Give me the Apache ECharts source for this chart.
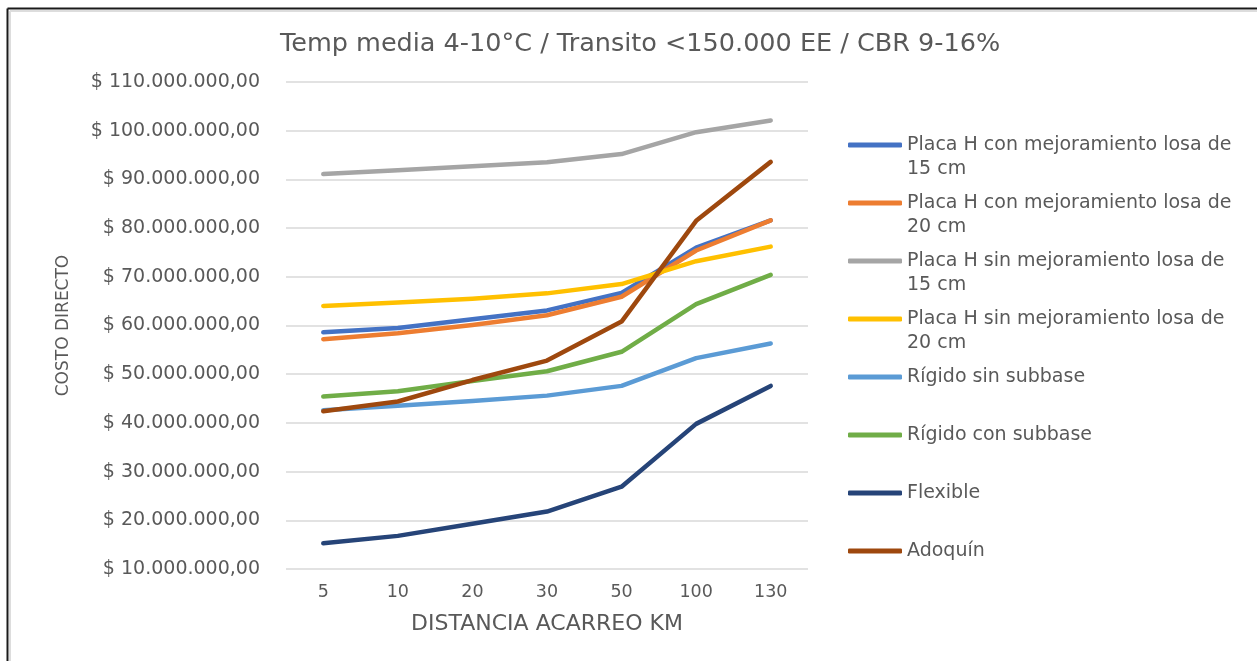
<!DOCTYPE html>
<html>
<head>
<meta charset="utf-8">
<script src="https://cdn.jsdelivr.net/npm/echarts@6/dist/echarts.min.js"></script>
<style>
  html, body { margin: 0; padding: 0; background: #ffffff; }
  #chart { width: 1257px; height: 661px; }
</style>
</head>
<body>
<div id="chart"></div>
<script>
const categories = ['5', '10', '20', '30', '50', '100', '130'];

const placaCon15 = [58600000, 59500000, 61300000, 63100000, 66700000, 76000000, 81600000];
const placaCon20 = [57200000, 58400000, 60100000, 62100000, 65900000, 75400000, 81600000];
const placaSin15 = [91100000, 91900000, 92700000, 93500000, 95200000, 99700000, 102100000];
const placaSin20 = [64000000, 64700000, 65500000, 66600000, 68500000, 73200000, 76200000];
const rigidoSin  = [42600000, 43500000, 44500000, 45600000, 47600000, 53300000, 56300000];
const rigidoCon  = [45400000, 46500000, 48600000, 50600000, 54600000, 64400000, 70400000];
const flexible   = [15300000, 16800000, 19300000, 21800000, 26900000, 39800000, 47600000];
const adoquin    = [42400000, 44400000, 48800000, 52800000, 60800000, 81500000, 93600000];

const seriesNames = [
  'Placa H con mejoramiento losa de 15 cm',
  'Placa H con mejoramiento losa de 20 cm',
  'Placa H sin mejoramiento losa de 15 cm',
  'Placa H sin mejoramiento losa de 20 cm',
  'Rígido sin subbase',
  'Rígido con subbase',
  'Flexible',
  'Adoquín'
];
const legendLabels = [
  'Placa H con mejoramiento losa de\n15 cm',
  'Placa H con mejoramiento losa de\n20 cm',
  'Placa H sin mejoramiento losa de\n15 cm',
  'Placa H sin mejoramiento losa de\n20 cm',
  'Rígido sin subbase\n',
  'Rígido con subbase\n',
  'Flexible\n',
  'Adoquín\n'
];
const seriesData = [placaCon15, placaCon20, placaSin15, placaSin20, rigidoSin, rigidoCon, flexible, adoquin];
const colors = ['#4472C4', '#ED7D31', '#A5A5A5', '#FFC000', '#5B9BD5', '#70AD47', '#264478', '#9E480E'];

const FONT = 'DejaVu Sans';
const TXT = '#595959';

function fmtMoney(v) {
  const s = String(Math.round(v)).replace(/\B(?=(\d{3})+(?!\d))/g, '.');
  return '$ ' + s + ',00';
}

const chart = echarts.init(document.getElementById('chart'), null, { renderer: 'canvas' });

const option = {
  backgroundColor: '#ffffff',
  animation: false,
  color: colors,
  title: {
    text: 'Temp media 4-10°C / Transito <150.000 EE / CBR 9-16%',
    left: 280,
    top: 31,
    padding: 0,
    textStyle: { fontFamily: FONT, fontSize: 25.5, fontWeight: 'normal', color: TXT }
  },
  graphic: [
    { type: 'line', shape: { x1: 10, y1: 11, x2: 10, y2: 661 }, style: { stroke: '#dddddd', lineWidth: 2 }, silent: true },
    { type: 'line', shape: { x1: 10, y1: 11, x2: 1257, y2: 11 }, style: { stroke: '#dddddd', lineWidth: 2 }, silent: true },
    { type: 'line', shape: { x1: 7.5, y1: 8.5, x2: 7.5, y2: 661 }, style: { stroke: '#1a1a1a', lineWidth: 2 }, silent: true },
    { type: 'line', shape: { x1: 7.5, y1: 8.5, x2: 1257, y2: 8.5 }, style: { stroke: '#1a1a1a', lineWidth: 2 }, silent: true }
  ],
  legend: {
    orient: 'vertical',
    left: 848,
    top: 109,
    padding: 0,
    itemGap: -14,
    itemWidth: 54,
    itemHeight: 5,
    icon: 'roundRect',
    data: seriesNames,
    formatter: function (name) {
      return '\n' + legendLabels[seriesNames.indexOf(name)];
    },
    textStyle: { fontFamily: FONT, fontSize: 19, color: TXT, lineHeight: 24 }
  },
  grid: { left: 286, right: 449, top: 82, bottom: 92, containLabel: false },
  xAxis: {
    type: 'category',
    data: categories,
    boundaryGap: true,
    name: 'DISTANCIA ACARREO KM',
    nameLocation: 'middle',
    nameGap: 44,
    nameTextStyle: { fontFamily: FONT, fontSize: 22, color: TXT },
    axisLine: { show: false },
    axisTick: { show: false },
    axisLabel: { fontFamily: FONT, fontSize: 17.5, color: TXT, margin: 14 }
  },
  yAxis: {
    type: 'value',
    min: 10000000,
    max: 110000000,
    interval: 10000000,
    name: 'COSTO DIRECTO',
    nameLocation: 'middle',
    nameGap: 214,
    nameRotate: 90,
    nameTextStyle: { fontFamily: FONT, fontSize: 17, color: TXT },
    axisLine: { show: false },
    axisTick: { show: false },
    splitLine: { lineStyle: { color: '#d9d9d9', width: 1.5 } },
    axisLabel: { fontFamily: FONT, fontSize: 19, color: TXT, margin: 26, formatter: fmtMoney }
  },
  series: seriesNames.map(function (n, i) {
    return {
      name: n,
      type: 'line',
      data: seriesData[i],
      symbol: 'none',
      showSymbol: false,
      lineStyle: { width: 4.5, color: colors[i], cap: 'round', join: 'round' },
      itemStyle: { color: colors[i] }
    };
  })
};

chart.setOption(option);
</script>
</body>
</html>
